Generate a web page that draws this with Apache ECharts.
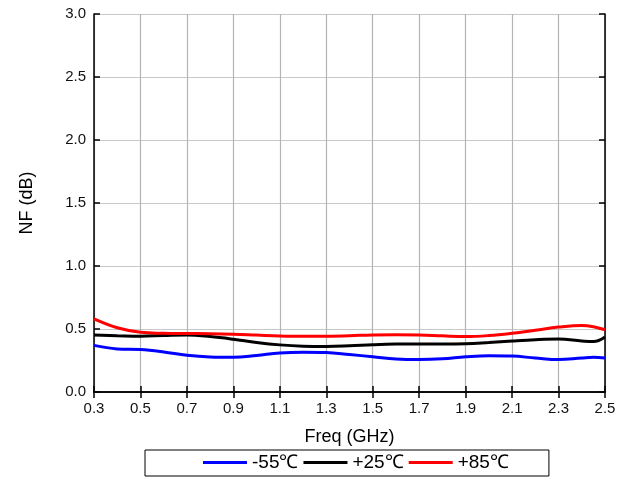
<!DOCTYPE html>
<html>
<head>
<meta charset="utf-8">
<script src="https://cdn.jsdelivr.net/npm/echarts@6/dist/echarts.min.js"></script>
<style>html,body{margin:0;padding:0;background:#fff;}#c{width:635px;height:480px;}</style>
</head>
<body>
<div id="c"></div>
<script>
const freq = [0.3,0.4,0.5,0.6,0.7,0.8,0.9,1.0,1.1,1.2,1.3,1.4,1.5,1.6,1.7,1.8,1.9,2.0,2.1,2.2,2.3,2.4,2.45,2.5];
const nfM55 = [0.37,0.342,0.337,0.318,0.292,0.278,0.275,0.29,0.31,0.316,0.313,0.297,0.28,0.262,0.257,0.263,0.279,0.288,0.285,0.27,0.258,0.27,0.275,0.27];
const nfP25 = [0.452,0.447,0.443,0.448,0.452,0.44,0.419,0.393,0.374,0.364,0.362,0.367,0.375,0.38,0.381,0.381,0.383,0.393,0.405,0.415,0.42,0.405,0.4,0.437];
const nfP85 = [0.58,0.51,0.474,0.466,0.464,0.463,0.459,0.452,0.445,0.442,0.443,0.447,0.453,0.455,0.453,0.446,0.44,0.448,0.466,0.49,0.515,0.528,0.518,0.494];
const seriesNames = ['-55℃','+25℃','+85℃'];
const seriesColors = ['#0000ff','#000000','#ff0000'];
const yTicks = {min:0, max:3, interval:0.5};
const xTicks = {min:0.3, max:2.5, interval:0.2};

const pairs = arr => freq.map((f,i)=>[f, arr[i]]);
const dataSets = [nfM55, nfP25, nfP85];

const chart = echarts.init(document.getElementById('c'));
const font = 'Liberation Sans, Arial, sans-serif';
chart.setOption({
  animation:false,
  backgroundColor:'#fff',
  grid:{left:94, right:30, top:14, bottom:88},
  xAxis:[{
    type:'value', min:xTicks.min, max:xTicks.max, interval:xTicks.interval,
    name:'Freq (GHz)', nameLocation:'middle', nameGap:36,
    nameTextStyle:{fontFamily:font, fontSize:18, color:'#000'},
    axisLine:{lineStyle:{color:'#000', width:1.5}},
    axisTick:{inside:true, length:6, lineStyle:{color:'#000', width:1.5}},
    axisLabel:{fontFamily:font, fontSize:15, color:'#111', margin:9,
      formatter:v=>v.toFixed(1)},
    splitLine:{show:true, lineStyle:{color:'#b4b4b4', width:1.2}}
  },{
    type:'value', position:'top', min:xTicks.min, max:xTicks.max, interval:xTicks.interval,
    axisLine:{lineStyle:{color:'#000', width:1.5}},
    axisTick:{inside:true, length:6, lineStyle:{color:'#000', width:1.5}},
    axisLabel:{show:false}, splitLine:{show:false}
  }],
  yAxis:[{
    type:'value', min:yTicks.min, max:yTicks.max, interval:yTicks.interval,
    name:'NF (dB)', nameLocation:'middle', nameGap:58, nameRotate:90,
    nameTextStyle:{fontFamily:font, fontSize:18, color:'#000'},
    axisLine:{show:true, lineStyle:{color:'#000', width:1.5}},
    axisTick:{show:true, inside:true, length:6, lineStyle:{color:'#000', width:1.5}},
    axisLabel:{fontFamily:font, fontSize:15, color:'#111', margin:8,
      formatter:v=>v.toFixed(1)},
    splitLine:{show:true, lineStyle:{color:'#c8c8c8', width:1.2}}
  },{
    type:'value', position:'right', min:yTicks.min, max:yTicks.max, interval:yTicks.interval,
    axisLine:{show:true, lineStyle:{color:'#000', width:1.5}},
    axisTick:{show:true, inside:true, length:6, lineStyle:{color:'#000', width:1.5}},
    axisLabel:{show:false}, splitLine:{show:false}
  }],
  legend:{
    left:145, top:450, orient:'horizontal',
    padding:[3,40,4,58],
    borderColor:'#000', borderWidth:1, borderRadius:0,
    itemWidth:44, itemHeight:3, itemGap:5, icon:'rect',
    textStyle:{fontFamily:font, fontSize:19, color:'#000'},
    data:seriesNames
  },
  series: dataSets.map((d,i)=>({
    name:seriesNames[i], type:'line', smooth:0.4,
    data:pairs(d), showSymbol:false, symbol:'none',
    lineStyle:{color:seriesColors[i], width:3},
    itemStyle:{color:seriesColors[i]},
    z:3+i
  }))
});
</script>
</body>
</html>
